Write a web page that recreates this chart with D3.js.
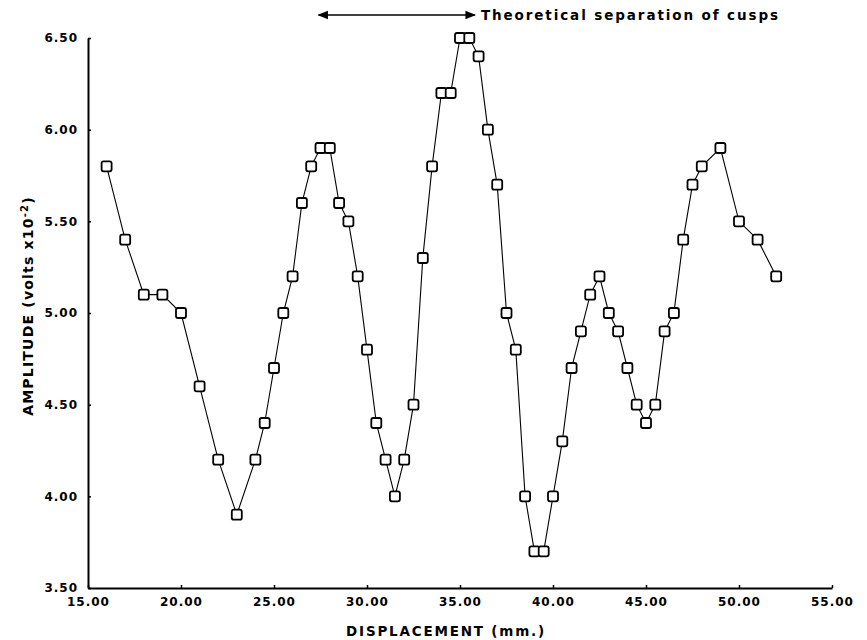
<!DOCTYPE html>
<html>
<head>
<meta charset="utf-8">
<script src="https://cdn.jsdelivr.net/npm/d3@7"></script>
<style>
  body { margin: 0; background: #fff; }
  text { font-family: "DejaVu Sans", "Liberation Sans", sans-serif; font-weight: bold; fill: #000; }
</style>
</head>
<body>
<svg id="chart"></svg>
<script>
// displacement (mm) and amplitude (volts x10^-2)
const displacement = [16, 17, 18, 19, 20, 21, 22, 23, 24, 24.5, 25, 25.5, 26, 26.5, 27, 27.5, 28, 28.5, 29, 29.5,
  30, 30.5, 31, 31.5, 32, 32.5, 33, 33.5, 34, 34.5, 35, 35.5, 36, 36.5, 37, 37.5, 38, 38.5, 39, 39.5,
  40, 40.5, 41, 41.5, 42, 42.5, 43, 43.5, 44, 44.5, 45, 45.5, 46, 46.5, 47, 47.5, 48, 49, 50, 51, 52];
const amplitude = [5.8, 5.4, 5.1, 5.1, 5.0, 4.6, 4.2, 3.9, 4.2, 4.4, 4.7, 5.0, 5.2, 5.6, 5.8, 5.9, 5.9, 5.6, 5.5, 5.2,
  4.8, 4.4, 4.2, 4.0, 4.2, 4.5, 5.3, 5.8, 6.2, 6.2, 6.5, 6.5, 6.4, 6.0, 5.7, 5.0, 4.8, 4.0, 3.7, 3.7,
  4.0, 4.3, 4.7, 4.9, 5.1, 5.2, 5.0, 4.9, 4.7, 4.5, 4.4, 4.5, 4.9, 5.0, 5.4, 5.7, 5.8, 5.9, 5.5, 5.4, 5.2];
const xTicks = [15, 20, 25, 30, 35, 40, 45, 50, 55];
const yTicks = [3.5, 4.0, 4.5, 5.0, 5.5, 6.0, 6.5];
const cuspSpan = [27.5, 35.8];

const width = 867;
const height = 640;
const margin = { left: 88, top: 38, right: 35, bottom: 52 };

const svg = d3.select('#chart')
  .attr('width', width)
  .attr('height', height);

const data = displacement.map((d, i) => ({ x: d, y: amplitude[i] }));

const xScale = d3.scaleLinear()
  .domain([15, 55])
  .range([margin.left, width - margin.right]);

const yScale = d3.scaleLinear()
  .domain([3.5, 6.5])
  .range([height - margin.bottom, margin.top]);

// x axis
const xAxis = svg.append('g')
  .attr('transform', `translate(0,${height - margin.bottom})`)
  .call(d3.axisBottom(xScale).tickValues(xTicks).tickFormat(d3.format('.2f'))
    .tickSizeInner(-3).tickSizeOuter(0).tickPadding(9));

// y axis
const yAxis = svg.append('g')
  .attr('transform', `translate(${margin.left},0)`)
  .call(d3.axisLeft(yScale).tickValues(yTicks).tickFormat(d3.format('.2f'))
    .tickSizeInner(-3).tickSizeOuter(0).tickPadding(10));

[xAxis, yAxis].forEach(ax => {
  ax.select('.domain').attr('stroke', '#000').attr('stroke-width', 2);
  ax.selectAll('.tick line').attr('stroke', '#000').attr('stroke-width', 1.5);
  ax.selectAll('.tick text')
    .style('font-size', '12px')
    .style('letter-spacing', '1px')
    .style('font-family', '"DejaVu Sans", sans-serif')
    .style('font-weight', 'bold');
});

// line
const line = d3.line()
  .x(d => xScale(d.x))
  .y(d => yScale(d.y));

svg.append('path')
  .datum(data)
  .attr('d', line)
  .attr('fill', 'none')
  .attr('stroke', '#000')
  .attr('stroke-width', 1.1);

// square markers
const boxSize = 10;
svg.append('g').selectAll('rect')
  .data(data)
  .enter().append('rect')
    .attr('x', d => xScale(d.x) - boxSize / 2)
    .attr('y', d => yScale(d.y) - boxSize / 2)
    .attr('width', boxSize)
    .attr('height', boxSize)
    .attr('rx', 2)
    .attr('fill', '#fff')
    .attr('stroke', '#000')
    .attr('stroke-width', 1.8);

// axis titles
svg.append('text')
  .attr('x', 446)
  .attr('y', 636)
  .attr('text-anchor', 'middle')
  .style('font-size', '13.5px')
  .style('letter-spacing', '1.8px')
  .text('DISPLACEMENT (mm.)');

const yTitle = svg.append('text')
  .attr('transform', `translate(33,306) rotate(-90)`)
  .attr('text-anchor', 'middle')
  .style('font-size', '14px')
  .style('letter-spacing', '1.2px');
yTitle.append('tspan').text('AMPLITUDE (volts x10');
yTitle.append('tspan').attr('dy', -5).style('font-size', '10px').text('-2');
yTitle.append('tspan').attr('dy', 5).text(')');

// annotation arrow for cusp separation
const arrowY = 15;
const defs = svg.append('defs');
defs.append('marker')
  .attr('id', 'arrow')
  .attr('viewBox', '0 0 10 10')
  .attr('refX', 9)
  .attr('refY', 5)
  .attr('markerWidth', 9)
  .attr('markerHeight', 7)
  .attr('orient', 'auto-start-reverse')
  .append('path')
    .attr('d', 'M0,1 L10,5 L0,9 Z')
    .attr('fill', '#000');

svg.append('line')
  .attr('x1', xScale(cuspSpan[0]) - 2)
  .attr('x2', xScale(cuspSpan[1]))
  .attr('y1', arrowY)
  .attr('y2', arrowY)
  .attr('stroke', '#000')
  .attr('stroke-width', 1.5)
  .attr('marker-start', 'url(#arrow)')
  .attr('marker-end', 'url(#arrow)');

svg.append('text')
  .attr('x', xScale(cuspSpan[1]) + 6)
  .attr('y', arrowY + 5)
  .style('font-size', '13.5px')
  .style('letter-spacing', '1.9px')
  .text('Theoretical separation of cusps');
</script>
</body>
</html>
